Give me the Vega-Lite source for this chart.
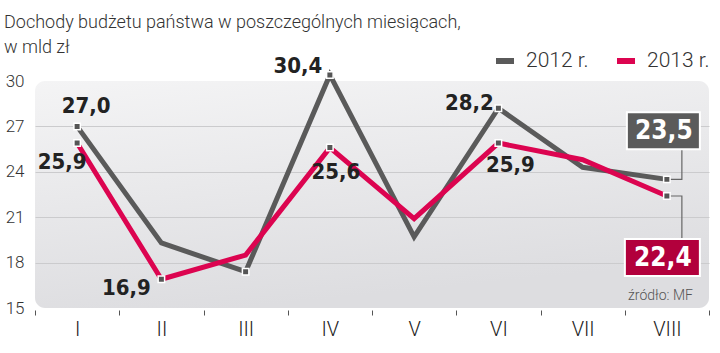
{
  "$schema": "https://vega.github.io/schema/vega-lite/v6.json",
  "width": 674,
  "height": 227,
  "autosize": {"type": "none"},
  "padding": {"left": 35, "top": 81, "right": 11, "bottom": 45},
  "background": "white",
  "title": {
    "text": ["Dochody budżetu państwa w poszczególnych miesiącach,", "w mld zł"],
    "anchor": "start",
    "frame": "group",
    "dx": -31,
    "dy": 43,
    "offset": 35,
    "font": "Roboto",
    "fontWeight": 300,
    "fontSize": 18,
    "lineHeight": 25,
    "color": "#333333"
  },
  "config": {
    "locale": {"number": {"decimal": ",", "thousands": " ", "grouping": [3], "currency": ["", " zł"]}},
    "view": {"stroke": null}
  },
  "view": {
    "cornerRadius": 10,
    "stroke": null,
    "fill": {
      "gradient": "linear", "x1": 0, "y1": 0, "x2": 0.3, "y2": 1,
      "stops": [{"offset": 0, "color": "#f4f4f5"}, {"offset": 1, "color": "#dddde0"}]
    }
  },
  "data": {
    "values": [
      {"month": "I", "series": "2012 r.", "value": 27.0},
      {"month": "II", "series": "2012 r.", "value": 19.3},
      {"month": "III", "series": "2012 r.", "value": 17.4},
      {"month": "IV", "series": "2012 r.", "value": 30.4},
      {"month": "V", "series": "2012 r.", "value": 19.7},
      {"month": "VI", "series": "2012 r.", "value": 28.2},
      {"month": "VII", "series": "2012 r.", "value": 24.3},
      {"month": "VIII", "series": "2012 r.", "value": 23.5},
      {"month": "I", "series": "2013 r.", "value": 25.9},
      {"month": "II", "series": "2013 r.", "value": 16.9},
      {"month": "III", "series": "2013 r.", "value": 18.5},
      {"month": "IV", "series": "2013 r.", "value": 25.6},
      {"month": "V", "series": "2013 r.", "value": 20.9},
      {"month": "VI", "series": "2013 r.", "value": 25.9},
      {"month": "VII", "series": "2013 r.", "value": 24.8},
      {"month": "VIII", "series": "2013 r.", "value": 22.4}
    ]
  },
  "encoding": {
    "x": {
      "field": "month", "type": "ordinal",
      "sort": ["I", "II", "III", "IV", "V", "VI", "VII", "VIII"],
      "scale": {"type": "band", "paddingInner": 0, "paddingOuter": 0},
      "axis": {
        "title": null, "domain": false, "tickBand": "extent", "tickColor": "#555555",
        "tickSize": 5, "tickWidth": 1, "offset": 2, "labelAngle": 0,
        "labelFont": "Roboto", "labelFontWeight": 300, "labelFontSize": 20,
        "labelColor": "#222222", "labelPadding": 4
      }
    },
    "y": {
      "field": "value", "type": "quantitative",
      "scale": {"domain": [15, 30], "nice": false, "zero": false},
      "axis": {
        "title": null, "domain": false, "ticks": false,
        "values": [15, 18, 21, 24, 27, 30],
        "labelFont": "Roboto", "labelFontWeight": 300, "labelFontSize": 17,
        "labelColor": "#333333", "labelPadding": 11,
        "gridColor": {"condition": {"test": "datum.value == 15 || datum.value == 30", "value": "transparent"}, "value": "#cbcbcd"},
        "gridWidth": 1.2
      }
    }
  },
  "layer": [
    {
      "mark": {"type": "line", "strokeWidth": 5, "strokeJoin": "miter"},
      "encoding": {
        "color": {
          "field": "series", "type": "nominal",
          "scale": {"domain": ["2012 r.", "2013 r."], "range": ["#5a5a5a", "#dc0450"]},
          "legend": {
            "orient": "none", "legendX": 458, "legendY": -32, "direction": "horizontal",
            "padding": 0, "title": null, "labelFont": "Roboto", "labelFontWeight": 300, "labelFontSize": 21,
            "labelColor": "#333333", "symbolStrokeWidth": 6, "symbolSize": 324,
            "columnPadding": 16, "labelOffset": 9, "labelLimit": 200
          }
        }
      }
    },
    {
      "transform": [{"filter": "datum.series == '2012 r.' && datum.month == 'VIII'"}],
      "mark": {"type": "point", "shape": "M0,0H15V-30", "size": 4, "filled": false, "stroke": "#666666", "strokeWidth": 1.2, "opacity": 1}
    },
    {
      "transform": [{"filter": "datum.series == '2013 r.' && datum.month == 'VIII'"}],
      "mark": {"type": "point", "shape": "M0,0H15V43", "size": 4, "filled": false, "stroke": "#666666", "strokeWidth": 1.2, "opacity": 1}
    },
    {
      "transform": [{"filter": "datum.series == '2012 r.' && datum.month == 'VIII'"}],
      "mark": {"type": "point", "shape": "M-40,-67H33V-30H-40Z", "size": 4, "filled": true, "fill": "#5b5b5b", "stroke": "white", "strokeWidth": 2, "opacity": 1}
    },
    {
      "transform": [{"filter": "datum.series == '2013 r.' && datum.month == 'VIII'"}],
      "mark": {"type": "point", "shape": "M-42,43H33V80H-42Z", "size": 4, "filled": true, "fill": "#b2003c", "stroke": "white", "strokeWidth": 2, "opacity": 1}
    },
    {
      "transform": [{"filter": "(datum.series == '2012 r.' && indexof(['I','III','IV','VI','VIII'], datum.month) >= 0) || (datum.series == '2013 r.' && indexof(['I','II','IV','VI','VIII'], datum.month) >= 0)"}],
      "mark": {"type": "point", "shape": "square", "size": 42, "filled": true, "fill": "#555555", "stroke": "white", "strokeWidth": 1.5, "opacity": 1}
    },
    {
      "transform": [{"filter": "datum.series == '2012 r.' && datum.month == 'I'"}],
      "mark": {"type": "text", "dx": 9, "dy": -20, "font": "'DejaVu Sans Condensed', sans-serif", "fontWeight": "bold", "fontSize": 22, "fill": "#222222"},
      "encoding": {"text": {"field": "value", "type": "quantitative", "format": ".1f"}}
    },
    {
      "transform": [{"filter": "datum.series == '2013 r.' && datum.month == 'I'"}],
      "mark": {"type": "text", "dx": -15, "dy": 19, "font": "'DejaVu Sans Condensed', sans-serif", "fontWeight": "bold", "fontSize": 22, "fill": "#222222"},
      "encoding": {"text": {"field": "value", "type": "quantitative", "format": ".1f"}}
    },
    {
      "transform": [{"filter": "datum.series == '2013 r.' && datum.month == 'II'"}],
      "mark": {"type": "text", "dx": -35, "dy": 9, "font": "'DejaVu Sans Condensed', sans-serif", "fontWeight": "bold", "fontSize": 22, "fill": "#222222"},
      "encoding": {"text": {"field": "value", "type": "quantitative", "format": ".1f"}}
    },
    {
      "transform": [{"filter": "datum.series == '2012 r.' && datum.month == 'IV'"}],
      "mark": {"type": "text", "dx": -32, "dy": -9, "font": "'DejaVu Sans Condensed', sans-serif", "fontWeight": "bold", "fontSize": 22, "fill": "#222222"},
      "encoding": {"text": {"field": "value", "type": "quantitative", "format": ".1f"}}
    },
    {
      "transform": [{"filter": "datum.series == '2013 r.' && datum.month == 'IV'"}],
      "mark": {"type": "text", "dx": 6, "dy": 24, "font": "'DejaVu Sans Condensed', sans-serif", "fontWeight": "bold", "fontSize": 22, "fill": "#222222"},
      "encoding": {"text": {"field": "value", "type": "quantitative", "format": ".1f"}}
    },
    {
      "transform": [{"filter": "datum.series == '2012 r.' && datum.month == 'VI'"}],
      "mark": {"type": "text", "dx": -29, "dy": -5, "font": "'DejaVu Sans Condensed', sans-serif", "fontWeight": "bold", "fontSize": 22, "fill": "#222222"},
      "encoding": {"text": {"field": "value", "type": "quantitative", "format": ".1f"}}
    },
    {
      "transform": [{"filter": "datum.series == '2013 r.' && datum.month == 'VI'"}],
      "mark": {"type": "text", "dx": 12, "dy": 22, "font": "'DejaVu Sans Condensed', sans-serif", "fontWeight": "bold", "fontSize": 22, "fill": "#222222"},
      "encoding": {"text": {"field": "value", "type": "quantitative", "format": ".1f"}}
    },
    {
      "transform": [{"filter": "datum.series == '2012 r.' && datum.month == 'VIII'"}],
      "mark": {"type": "text", "dx": -3, "dy": -48, "font": "'DejaVu Sans Condensed', sans-serif", "fontWeight": "bold", "fontSize": 26, "fill": "white"},
      "encoding": {"text": {"field": "value", "type": "quantitative", "format": ".1f"}}
    },
    {
      "transform": [{"filter": "datum.series == '2013 r.' && datum.month == 'VIII'"}],
      "mark": {"type": "text", "dx": -4, "dy": 62, "font": "'DejaVu Sans Condensed', sans-serif", "fontWeight": "bold", "fontSize": 26, "fill": "white"},
      "encoding": {"text": {"field": "value", "type": "quantitative", "format": ".1f"}}
    },
    {
      "transform": [{"filter": "datum.series == '2012 r.' && datum.month == 'VIII'"}],
      "mark": {"type": "text", "text": "źródło: MF", "align": "right", "dx": 26, "dy": -12, "font": "Roboto", "fontWeight": 300, "fontSize": 14, "fill": "#555555"},
      "encoding": {"x": {"datum": "VIII"}, "y": {"datum": 15}}
    }
  ]
}
